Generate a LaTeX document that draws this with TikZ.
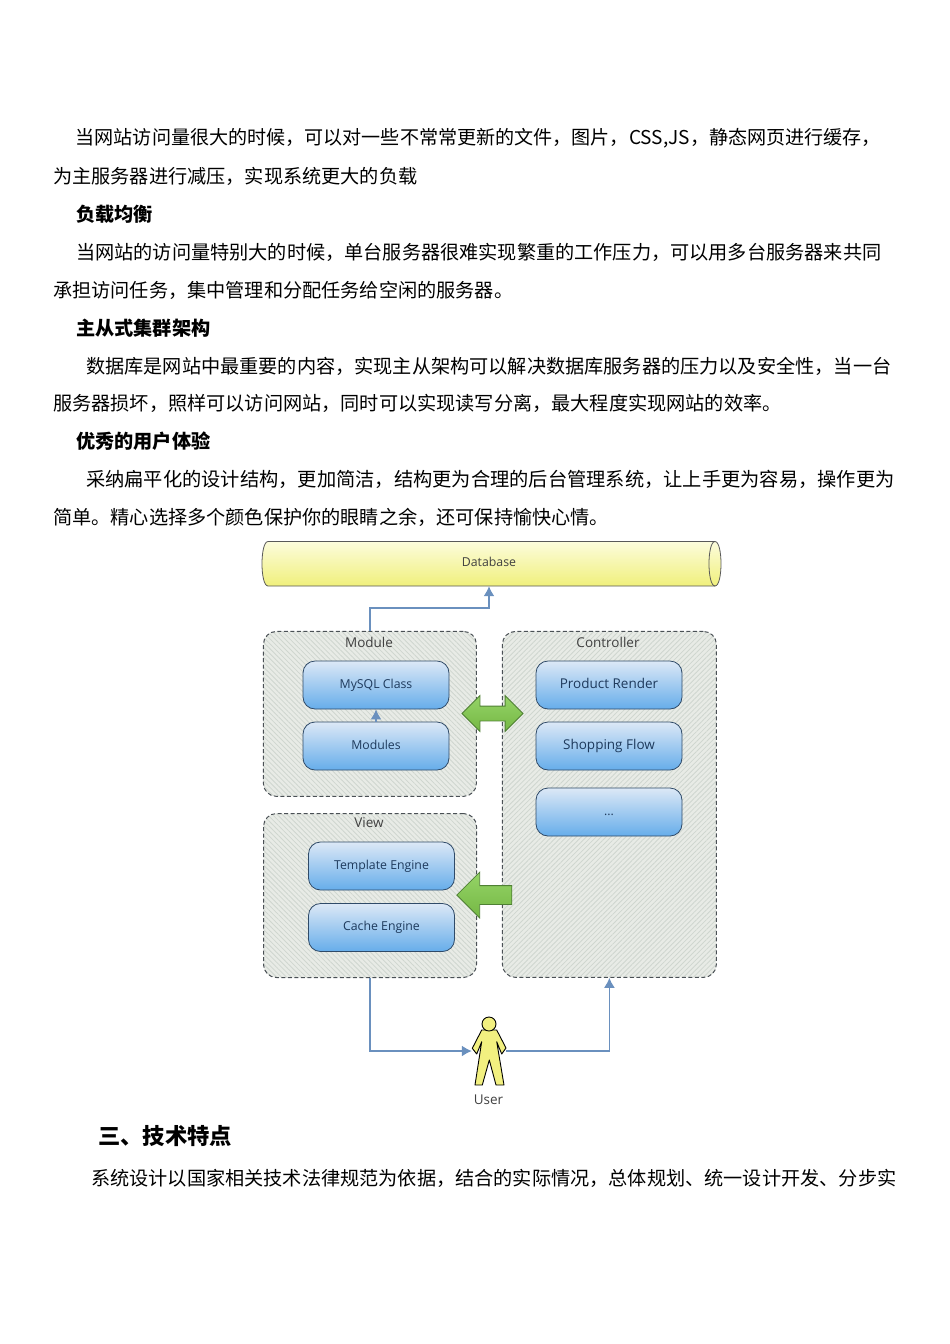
\documentclass[tikz,border=0pt]{standalone}
\usepackage{fontspec}
\setmainfont{Noto Sans CJK SC}
\newfontfamily\labelfont{Open Sans}
\usetikzlibrary{positioning}
\usetikzlibrary{calc}
\usetikzlibrary{arrows.meta}
\usetikzlibrary{patterns.meta}
\usetikzlibrary{shapes.arrows}
\definecolor{linkblue}{HTML}{6A90BE}
\definecolor{boxline}{HTML}{2F4A68}
\definecolor{boxtext}{HTML}{1E3A5C}
\definecolor{boxtop}{HTML}{DCE8F6}
\definecolor{boxbottom}{HTML}{66ADEA}
\definecolor{panelfill}{HTML}{E8EBE6}
\definecolor{hatchline}{HTML}{CFD6CF}
\definecolor{panelline}{HTML}{4A5055}
\definecolor{arrowgreen}{HTML}{82CC4C}
\definecolor{arrowline}{HTML}{4F8034}
\definecolor{dbtop}{HTML}{FCFCDC}
\definecolor{dbbottom}{HTML}{F0F07C}
\definecolor{figyellow}{HTML}{F2F080}

\begin{document}
\begin{tikzpicture}
  [x = 1pt, y = -1pt,
   bodytext/.style = {anchor = west, inner sep = 0, font = \fontsize{19.17}{22}\selectfont},
   widetext/.style = {bodytext, font = \fontsize{19.25}{22}\selectfont},
   tighttext/.style = {bodytext, font = \fontsize{19.08}{22}\selectfont},
   boldtext/.style = {bodytext, font = \fontsize{19.17}{22}\selectfont\bfseries},
   headtext/.style = {bodytext, font = \fontsize{22.3}{26}\selectfont\bfseries},
   smalltext/.style = {inner sep = 0, text = black!75, font = \fontsize{13.5}{16}\selectfont\labelfont},
   panel/.style = {draw = panelline, line width = 1pt, dash pattern = on 4pt off 2.5pt, rounded corners = 13,
     anchor = north west, preaction = {fill = panelfill}},
   hatchleft/.style = {pattern = {Lines[angle = -45, distance = 3.5pt, line width = 0.8pt]}, pattern color = hatchline},
   hatchright/.style = {pattern = {Lines[angle = 45, distance = 3.5pt, line width = 0.8pt]}, pattern color = hatchline},
   modbox/.style = {draw = boxline, thick, rounded corners = 12, minimum width = 146, minimum height = 48,
     inner sep = 0, text = boxtext, text height = 9, text depth = 3, top color = boxtop, bottom color = boxbottom,
     font = \fontsize{13.5}{16}\selectfont\labelfont},
   slimbox/.style = {modbox, font = \fontsize{12.3}{16}\selectfont\labelfont},
   link/.style = {draw = linkblue, line width = 1.6pt, -{Latex[length = 10pt, width = 11pt]}},
   bigarrow/.style = {draw = arrowline, thick, inner xsep = 0, top color = arrowgreen!85!white, bottom color = arrowgreen!90!black}]
  \useasboundingbox (0, 0) rectangle (950, 1344);

  \node [tighttext] (line1) at (75.5, 138) {当网站访问量很大的时候，可以对一些不常常更新的文件，图片，CSS,JS，静态网页进行缓存，};
  \node [bodytext] (line2) at (53, 176) {为主服务器进行减压，实现系统更大的负载};
  \node [boldtext] (line3) at (76, 214) {负载均衡};
  \node [bodytext] (line4) at (76, 252) {当网站的访问量特别大的时候，单台服务器很难实现繁重的工作压力，可以用多台服务器来共同};
  \node [bodytext] (line5) at (53, 290) {承担访问任务，集中管理和分配任务给空闲的服务器。};
  \node [boldtext] (line6) at (76, 328) {主从式集群架构};
  \node [bodytext] (line7) at (86, 366) {数据库是网站中最重要的内容，实现主从架构可以解决数据库服务器的压力以及安全性，当一台};
  \node [bodytext] (line8) at (53, 403) {服务器损坏，照样可以访问网站，同时可以实现读写分离，最大程度实现网站的效率。};
  \node [boldtext] (line9) at (76, 441) {优秀的用户体验};
  \node [widetext] (line10) at (86, 479) {采纳扁平化的设计结构，更加简洁，结构更为合理的后台管理系统，让上手更为容易，操作更为};
  \node [bodytext] (line11) at (53, 517) {简单。精心选择多个颜色保护你的眼睛之余，还可保持愉快心情。};
  \node [headtext] (heading) at (98, 1136) {三、技术特点};
  \node [bodytext] (line12) at (91, 1178) {系统设计以国家相关技术法律规范为依据，结合的实际情况，总体规划、统一设计开发、分步实};

  \draw [draw = black!65, thick, top color = dbtop, bottom color = dbbottom]
    (268, 541.5) -- (715, 541.5) .. controls (723, 541.5) and (723, 586) .. (715, 586)
    -- (268, 586) .. controls (260, 586) and (260, 541.5) .. (268, 541.5) -- cycle;
  \draw [draw = black!65, thick] (715, 541.5) .. controls (707, 541.5) and (707, 586) .. (715, 586);
  \node [inner sep = 0, minimum width = 440, minimum height = 44.5, text = black!75, text height = 10, text depth = 5,
    font = \fontsize{12.3}{16}\selectfont\labelfont] (database) at (489, 563.75) {Database};

  \node [panel, hatchleft, minimum width = 213, minimum height = 165] (module) at (263, 631) {};
  \node [panel, hatchleft, minimum width = 213, minimum height = 164] (view) at (263, 813) {};
  \node [panel, hatchright, minimum width = 214, minimum height = 346] (controller) at (502, 631) {};
  \node [smalltext] (modulelabel) at (369, 642) {Module};
  \node [smalltext] (viewlabel) at (369, 823) {View};
  \node [smalltext] (controllerlabel) at (608, 642) {Controller};

  \node [slimbox] (mysql) at (376, 685) {MySQL Class};
  \node [slimbox] (modules) at (376, 746) {Modules};
  \node [modbox] (render) at (609, 685) {Product Render};
  \node [modbox] (flow) at (609, 746) {Shopping Flow};
  \node [slimbox] (more) at (609, 812) {...};
  \node [slimbox] (template) at (381.5, 866) {Template Engine};
  \node [slimbox] (cache) at (381.5, 927.5) {Cache Engine};

  \node [bigarrow, double arrow, inner ysep = 7, minimum width = 35, minimum height = 61, double arrow head extend = 10.5] (both) at (492.5, 713.5) {};
  \node [bigarrow, single arrow, inner ysep = 9, shape border rotate = 180, minimum width = 45, minimum height = 55, single arrow head extend = 13.5] (toview) at (489, 895) {};

  \draw [draw = black, fill = figyellow, line width = 0.9pt, line join = round]
    (481.7, 1030) -- (496.7, 1030) -- (506, 1048) -- (501.7, 1054) -- (496.7, 1041.7) -- (504, 1085)
    -- (496, 1085) -- (489.3, 1060) -- (482.3, 1085) -- (475, 1085) -- (481.7, 1041.7)
    -- (476.7, 1054) -- (472.3, 1048.3) -- cycle;
  \draw [draw = black, fill = figyellow, line width = 0.9pt] (489, 1024) circle (7);
  \node [inner sep = 0, minimum width = 34, minimum height = 68] (person) at (489, 1051) {};
  \node [smalltext] (userlabel) at (488.5, 1100) {User};

  \draw [link] (module.north) -- ++(0, -23) -| (database.south);
  \draw [link] (modules.north) -- (mysql.south);
  \draw [link] (view.south) |- (person.west);
  \draw [link] (person.east) -| (controller.south);
\end{tikzpicture}
\end{document}
